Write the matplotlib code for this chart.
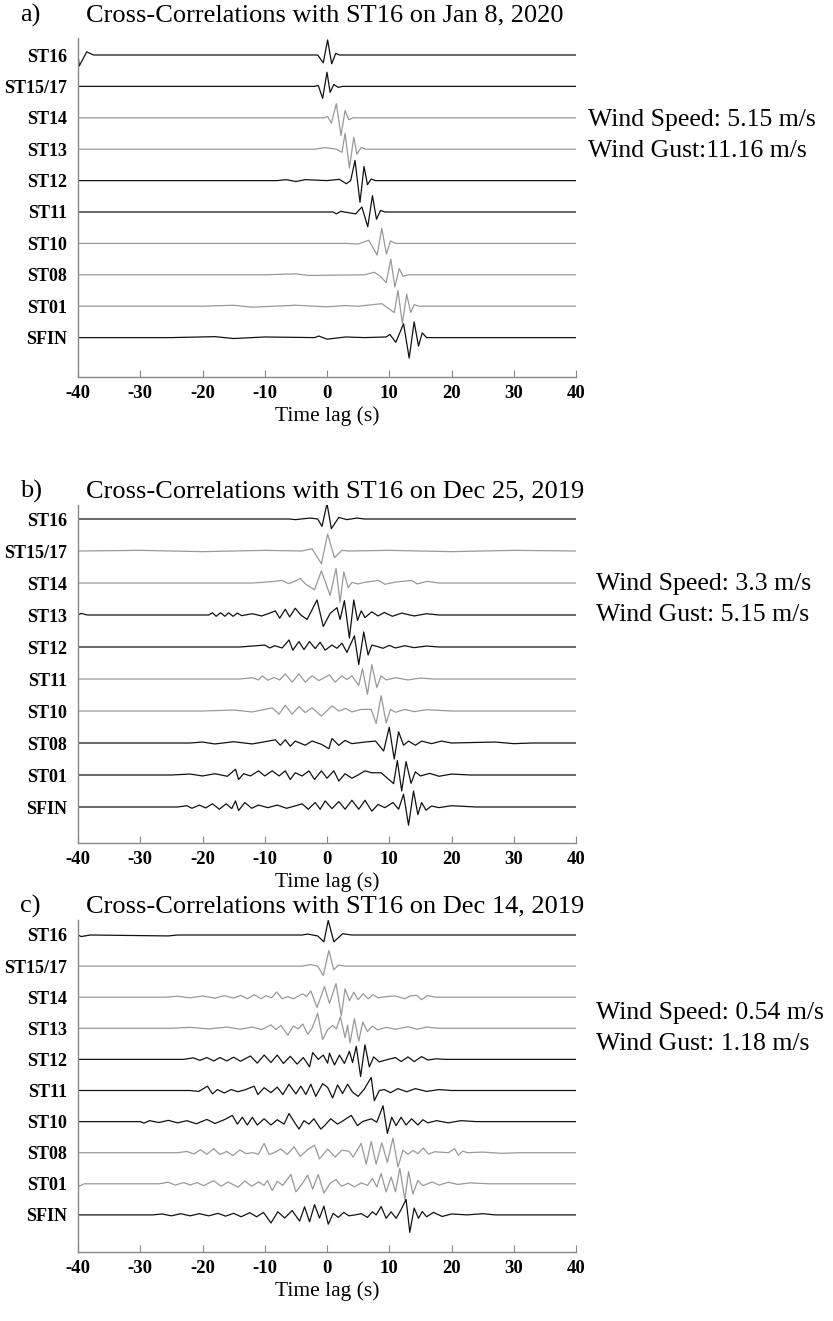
import numpy as np
import matplotlib
matplotlib.use("Agg")
import matplotlib.pyplot as plt

plt.rcParams['font.family'] = ['Liberation Serif', 'DejaVu Serif']

stations = ["ST16", "ST15/17", "ST14", "ST13", "ST12", "ST11", "ST10", "ST08", "ST01", "SFIN"]
xticks = [-40, -30, -20, -10, 0, 10, 20, 30, 40]

# each trace = list of (time lag s, amplitude in trace spacings)
# --- a) Jan 8, 2020
a_ST16 = [(-40, 0), (-39.8, -0.35), (-38.6, 0.1), (-37.5, 0), (-1.5, 0), (-0.6, -0.25), (0.1, 0.48),
          (0.75, -0.28), (1.4, 0.05), (2, 0), (40, 0)]
a_ST15 = [(-40, 0), (-2, 0), (-1.4, 0.03), (-0.7, -0.38), (0.0, 0.45), (0.5, -0.19), (1.1, 0.06),
          (1.8, -0.03), (2.5, 0), (40, 0)]
a_ST14 = [(-40, 0), (-0.5, 0), (0.1, 0.04), (0.7, -0.17), (1.5, 0.45), (2.25, -0.56), (2.9, 0.23),
          (3.5, -0.06), (4.2, 0), (40, 0)]
a_ST13 = [(-40, 0), (-2, 0), (-0.3, 0.05), (1.5, 0), (2.4, -0.1), (2.9, 0.5), (3.6, -0.6), (4.3, 0.38),
          (4.8, -0.16), (5.5, 0.06), (6.2, 0), (40, 0)]
a_ST12 = [(-40, 0), (-8, 0), (-6.5, 0.03), (-5, -0.03), (-3.5, 0.03), (0, 0), (2, 0.04), (3.1, -0.1),
          (3.8, 0), (4.5, 0.64), (5.3, -0.69), (5.95, 0.45), (6.5, -0.13), (7.1, 0.05), (7.8, 0), (40, 0)]
a_ST11 = [(-40, 0), (1, 0), (1.5, -0.06), (2.2, 0.02), (4.6, -0.06), (5.6, 0.16), (6.55, -0.47),
          (7.3, 0.52), (7.95, -0.23), (8.6, 0.05), (9.3, 0), (40, 0)]
a_ST10 = [(-40, 0), (3, 0), (5, -0.02), (6.7, 0.1), (8.05, -0.37), (8.8, 0.48), (9.55, -0.34),
          (10.2, 0.08), (11, 0), (40, 0)]
a_ST08 = [(-40, 0), (-10, 0), (-5, 0.03), (-3, -0.02), (6, 0), (7.6, 0.08), (8.6, -0.05), (9.5, -0.25),
          (10.25, 0.5), (10.9, -0.39), (11.6, 0.2), (12.2, -0.05), (13, 0), (40, 0)]
a_ST01 = [(-40, 0), (-20, 0), (-15, 0.03), (-12, -0.03), (-5, 0.03), (0, -0.02), (3, 0.02), (5, 0),
          (8.8, 0.08), (10.8, -0.2), (11.4, 0.5), (12.1, -0.55), (12.8, 0.38), (13.45, -0.2),
          (14.0, 0.05), (14.8, 0), (40, 0)]
a_SFIN = [(-40, 0), (-25, 0), (-18, 0.03), (-15, -0.03), (-10, 0.02), (-2, 0), (-1.3, 0.05), (0, -0.05),
          (3, 0.02), (6, 0), (9.5, 0.02), (10.1, 0.1), (11.05, -0.15), (12.3, 0.44), (13.2, -0.65),
          (14.0, 0.5), (14.7, -0.27), (15.3, 0.15), (16.0, 0), (40, 0)]

# --- b) Dec 25, 2019
b_ST16 = [(-40, 0), (-6, 0), (-5.1, -0.02), (-2.7, 0.03), (-1.5, 0), (-0.8, -0.23), (0, 0.48), (0.7, -0.3),
          (1.9, 0.05), (3.2, -0.02), (4.8, 0.03), (6, 0), (40, 0)]
b_ST15 = [(-40, 0), (-30, 0.02), (-20, -0.02), (-10, 0.02), (-4, 0), (-2.4, 0.07), (-0.9, -0.4),
          (0.1, 0.53), (1.2, -0.21), (2.4, 0.02), (3.5, 0), (10, 0.02), (20, -0.02), (30, 0.02), (40, 0)]
b_ST14 = [(-40, 0), (-12, 0), (-9, 0.04), (-7.2, 0.08), (-6.2, -0.02), (-5.2, 0.05), (-4.3, 0.14),
          (-3.4, -0.04), (-2.0, -0.21), (-0.9, 0.38), (0.5, -0.39), (1.45, 0.46), (2.1, -0.6), (2.7, 0.35),
          (3.4, -0.15), (4.0, 0.02), (5, -0.03), (6, 0.02), (8.3, 0.08), (9.3, -0.04), (11, 0.03),
          (13.6, 0.08), (14.5, -0.03), (16, 0.05), (18, 0), (40, 0)]
b_ST13 = [(-40, 0), (-39.5, 0.05), (-38.5, 0), (-19, 0), (-18.4, 0.07), (-17.8, -0.04), (-17.1, 0.07),
          (-16.4, -0.04), (-15.8, 0.07), (-15.1, -0.04), (-14.4, 0.06), (-13.7, -0.02), (-12, 0.04),
          (-10.5, -0.03), (-9.3, 0.05), (-8.3, 0.13), (-7.6, -0.1), (-6.7, 0.18), (-6.0, -0.06),
          (-5.1, 0.21), (-4.2, 0.0), (-3.2, -0.14), (-1.6, 0.47), (-0.6, -0.36), (0.5, 0.05), (1.6, 0.23),
          (2.1, -0.14), (2.8, 0.45), (3.6, -0.72), (4.3, 0.47), (4.9, -0.17), (5.5, 0.13), (6.1, -0.08),
          (7.2, 0.1), (8.2, -0.03), (9.2, 0.08), (10.5, -0.04), (12, 0.06), (14, -0.03), (16, 0.04),
          (18, 0), (40, 0)]
b_ST12 = [(-40, 0), (-14, 0), (-12, 0.03), (-10, 0.06), (-9.2, -0.03), (-8.4, 0.04), (-7.2, -0.03),
          (-6.1, 0.22), (-5.5, -0.1), (-4.5, 0.17), (-3.7, -0.08), (-2.8, 0.17), (-1.9, -0.05),
          (-1.1, 0.15), (-0.3, -0.1), (0.8, 0.06), (1.6, -0.04), (2.4, 0.12), (3.2, -0.17), (4.4, 0.35),
          (5.1, -0.55), (5.9, 0.47), (6.6, -0.25), (7.2, 0.06), (8, 0.02), (9, -0.04), (10, 0.05),
          (11, -0.03), (12.5, 0.04), (14, -0.02), (16, 0.03), (18, 0), (40, 0)]
b_ST11 = [(-40, 0), (-14, 0), (-12, 0.04), (-11, -0.03), (-10.4, 0.1), (-9.5, -0.04), (-8.5, 0.05),
          (-7.6, -0.03), (-6.7, 0.16), (-5.6, -0.1), (-4.5, 0.16), (-3.5, -0.1), (-2.4, 0.1),
          (-1.3, -0.05), (0.4, 0.13), (1.3, -0.1), (2.4, 0.1), (3.2, -0.02), (4, 0.1), (5.1, -0.2),
          (5.7, 0.32), (6.5, -0.48), (7.2, 0.45), (8.0, -0.27), (8.7, 0.1), (9.5, -0.03), (11, 0.04),
          (13, -0.03), (15, 0.03), (17, 0), (40, 0)]
b_ST10 = [(-40, 0), (-20, 0), (-15, 0.03), (-12, -0.03), (-10, 0.05), (-8.8, 0.1), (-7.7, -0.1),
          (-6.7, 0.18), (-5.6, -0.1), (-4.5, 0.14), (-3.5, -0.05), (-2.4, 0.1), (-0.9, -0.16), (0.8, 0.16),
          (1.9, 0.0), (3.0, 0.08), (4.0, -0.03), (5.5, 0.05), (7.1, 0.05), (7.9, -0.39), (8.7, 0.48),
          (9.5, -0.37), (10.2, 0.05), (11, -0.04), (12.5, 0.05), (14, -0.02), (16, 0.04), (20, 0), (40, 0)]
b_ST08 = [(-40, 0), (-22, 0), (-20, 0.03), (-18, -0.03), (-15, 0.04), (-12, -0.03), (-10, 0.04),
          (-8.3, 0.1), (-7.5, -0.07), (-6.7, 0.1), (-5.9, -0.1), (-5.1, 0.06), (-3.5, -0.07), (-2.4, 0.06),
          (-0.9, -0.04), (0.3, -0.18), (0.8, 0.14), (1.9, -0.07), (2.9, 0.08), (4, -0.02), (6.1, 0.03),
          (7.8, 0.06), (9.1, -0.25), (10.0, 0.49), (10.8, -0.5), (11.5, 0.35), (12.3, -0.07), (13.1, 0.06),
          (14.2, -0.07), (15.2, 0.06), (16.8, -0.02), (18.4, 0.06), (20, 0), (27, 0.03), (30, -0.02),
          (33, 0), (40, 0)]
b_ST01 = [(-40, 0), (-25, 0), (-22, 0.03), (-20, -0.03), (-18, 0.04), (-16, -0.04), (-14.7, 0.18),
          (-14.2, -0.14), (-13.4, 0.04), (-12.3, -0.03), (-11, 0.13), (-10, -0.03), (-8.8, 0.13),
          (-7.7, -0.03), (-6.7, 0.13), (-5.9, -0.14), (-5.1, 0.07), (-4, -0.03), (-2.9, 0.13), (-2.0, -0.14),
          (-0.9, 0.13), (0, -0.1), (1.1, 0.13), (1.9, -0.19), (2.9, 0.04), (4.0, -0.1), (5, 0.0), (6.1, 0.13),
          (7.2, 0.07), (8.7, 0.07), (10.7, -0.27), (11.3, 0.45), (12.0, -0.5), (12.7, 0.42), (13.5, -0.26),
          (14.2, 0.1), (15, -0.03), (16.5, 0.05), (18, -0.04), (20, 0.03), (23, 0), (40, 0)]
b_SFIN = [(-40, 0), (-24, 0), (-22.5, 0.04), (-21.7, -0.04), (-20.5, 0.06), (-19.5, -0.03), (-18.4, 0.1),
          (-17.3, -0.07), (-16.2, 0.1), (-15.3, -0.05), (-14.7, 0.19), (-14.2, -0.11), (-13.2, 0.14),
          (-12.1, -0.04), (-11, 0.06), (-9.5, -0.02), (-8, 0.06), (-6.5, -0.04), (-5, 0.04), (-4, 0.1),
          (-3, -0.07), (-1.9, 0.14), (-1.1, -0.07), (-0.3, 0.19), (0.8, -0.05), (1.9, 0.17), (2.9, -0.07),
          (4.0, 0.21), (5.1, -0.07), (6.1, 0.21), (7.2, -0.13), (8.2, 0.08), (9.3, -0.02), (10.6, 0.14),
          (11.5, -0.07), (12.3, 0.4), (13.1, -0.57), (13.9, 0.5), (14.6, -0.24), (15.2, 0.14), (15.9, -0.1),
          (16.8, 0.03), (18, -0.02), (20, 0.04), (24, 0), (40, 0)]

# --- c) Dec 14, 2019
c_ST16 = [(-40, 0), (-39.5, -0.05), (-38, 0), (-25.5, -0.03), (-24, 0), (-4, 0), (-3.1, 0.03),
          (-1.5, -0.03), (-0.5, -0.22), (0.2, 0.47), (1.1, -0.22), (2.5, 0.04), (4, 0), (40, 0)]
c_ST15 = [(-40, 0), (-4, 0), (-2.6, 0.05), (-1.5, 0), (-0.6, -0.3), (0.3, 0.5), (1.1, -0.12), (1.8, 0.03),
          (3, 0), (40, 0)]
c_ST14 = [(-40, 0), (-26, 0), (-24, 0.03), (-22, -0.02), (-20, 0.04), (-18, -0.03), (-16.5, 0.05),
          (-15, -0.03), (-13.9, 0.06), (-12.8, -0.05), (-11.7, 0.08), (-10.6, -0.05), (-9.8, 0.05),
          (-8.9, -0.02), (-8.1, 0.17), (-7.2, -0.05), (-6.3, 0.02), (-5.4, -0.05), (-3.9, 0.11),
          (-3.3, 0.02), (-2.6, 0.2), (-1.6, -0.33), (-0.4, 0.34), (0.4, -0.2), (1.45, 0.44), (2.3, -0.6),
          (2.9, 0.27), (3.6, -0.11), (4.3, 0.16), (5.0, -0.08), (5.8, 0.11), (6.6, -0.05), (7.4, 0.08),
          (8.2, -0.02), (9.5, 0.02), (11, 0.04), (12.5, -0.05), (13.3, 0.04), (14.4, 0.06), (15.2, -0.08),
          (16.1, 0.05), (17.5, 0), (40, 0)]
c_ST13 = [(-40, 0), (-25, 0), (-22, 0.03), (-19, -0.02), (-16, 0.04), (-14, -0.03), (-12, 0.04),
          (-10.5, -0.04), (-9.0, 0.11), (-8.2, -0.04), (-7.4, 0.09), (-6.3, -0.22), (-5.4, 0.07),
          (-4.6, -0.02), (-3.9, 0.14), (-3.1, -0.19), (-2.4, 0.0), (-1.5, 0.48), (-0.7, -0.36), (0.1, -0.05),
          (0.9, 0.09), (1.5, -0.02), (2.15, 0.37), (2.9, -0.3), (3.3, 0.1), (3.7, -0.47), (4.4, 0.31),
          (5.1, -0.41), (5.75, 0.2), (6.5, -0.1), (7.3, 0.07), (8.1, -0.05), (9.5, 0.03), (11, -0.03),
          (13, 0.05), (14.5, -0.03), (16, 0.04), (18, 0), (40, 0)]
c_ST12 = [(-40, 0), (-23, 0), (-21.5, 0.05), (-20.4, -0.03), (-19.3, 0.06), (-18.2, -0.05), (-17.2, 0.06),
          (-16.1, -0.05), (-15, 0.07), (-13.9, -0.06), (-12.3, 0.11), (-11.2, -0.12), (-10.1, 0.14),
          (-9.0, -0.1), (-8.0, 0.14), (-7.0, -0.13), (-5.9, 0.1), (-4.8, -0.15), (-3.8, 0.06), (-2.8, -0.24),
          (-2.3, 0.22), (-1.4, 0.0), (-0.6, 0.14), (0.1, -0.12), (0.4, 0.2), (1.2, -0.18), (2.0, 0.14),
          (2.8, -0.13), (3.6, 0.26), (4.1, -0.1), (4.7, 0.42), (5.4, -0.55), (6.1, 0.47), (6.8, -0.24),
          (7.5, 0.08), (8.4, -0.08), (9.8, 0.0), (11, 0.06), (11.9, -0.07), (13, 0.08), (14, -0.07),
          (15.2, 0.09), (16.2, -0.02), (17.5, 0.02), (19, 0), (40, 0)]
c_ST11 = [(-40, 0), (-22, 0), (-20.6, -0.03), (-19.2, 0.14), (-18.4, -0.11), (-17.6, 0.03), (-16.5, -0.08),
          (-15.4, 0.03), (-14.3, -0.04), (-13.2, 0.02), (-11.7, 0.14), (-11.1, -0.13), (-10.1, 0.09),
          (-9.0, -0.07), (-8.0, 0.11), (-7.1, -0.13), (-6.1, 0.2), (-5.0, -0.11), (-4.2, 0.14), (-3.4, -0.13),
          (-2.6, 0.2), (-1.8, -0.19), (-0.7, 0.22), (0.1, 0.1), (0.9, -0.24), (1.7, 0.18), (2.5, -0.1),
          (3.3, 0.2), (4.1, -0.05), (5.0, -0.19), (6.0, 0.05), (7.1, 0.42), (7.6, -0.33), (8.4, 0.0),
          (9.2, 0.03), (10.2, -0.07), (11.4, 0.06), (12.8, -0.04), (14.2, 0.06), (16, -0.03), (18, 0.03),
          (20, 0), (40, 0)]
c_ST10 = [(-40, 0), (-30, 0), (-29.4, -0.05), (-28.5, 0.03), (-27, -0.03), (-25.5, 0.04), (-24, -0.04),
          (-22.5, 0.03), (-21, -0.07), (-19.3, 0.07), (-18, -0.06), (-16.4, 0.07), (-15.2, 0.2),
          (-14.4, -0.08), (-13.6, 0.14), (-12.8, -0.11), (-12, 0.14), (-11.2, -0.11), (-10.1, 0.09),
          (-9.0, -0.11), (-8.0, 0.06), (-6.9, -0.08), (-6.1, 0.26), (-5.3, 0.0), (-4.5, -0.24), (-3.7, 0.03),
          (-2.9, -0.08), (-2.1, 0.09), (-1.0, -0.24), (-0.4, -0.13), (0.6, 0.09), (1.7, -0.08), (2.6, 0.03),
          (3.9, 0.2), (4.9, -0.13), (5.7, 0.0), (7.1, 0.09), (8.0, -0.02), (9.0, 0.51), (9.7, -0.38),
          (10.4, 0.14), (11.1, -0.13), (11.9, 0.14), (12.7, -0.11), (13.6, 0.09), (14.6, -0.11),
          (15.4, 0.06), (16.2, -0.04), (17.6, 0.03), (19.5, -0.04), (21.5, 0.03), (24, 0), (40, 0)]
c_ST08 = [(-40, 0), (-24, 0), (-22.5, 0.04), (-21.4, -0.04), (-20.3, 0.1), (-19.3, -0.05), (-18.2, 0.13),
          (-17.2, -0.06), (-16.1, 0.04), (-15.1, -0.09), (-14, 0.09), (-13, -0.03), (-11.9, 0.0),
          (-11, -0.05), (-10.1, 0.3), (-9.3, -0.06), (-8.5, 0.0), (-7.4, 0.12), (-6.4, -0.06), (-5.3, 0.19),
          (-4.3, -0.12), (-3.1, 0.1), (-2.0, 0.24), (-1.2, -0.2), (0.1, 0.12), (1.3, -0.14), (2.4, 0.08),
          (3.5, 0.05), (4.2, -0.14), (5.5, 0.3), (6.3, -0.37), (7.1, 0.36), (7.9, -0.37), (8.8, 0.32),
          (9.7, -0.31), (10.6, 0.47), (11.4, -0.46), (12.2, 0.08), (13.0, -0.05), (13.8, 0.07), (14.6, -0.03),
          (15.5, 0.15), (16.3, -0.05), (17.3, 0.03), (19.5, 0.0), (20.5, 0.13), (21.1, -0.08), (21.8, 0.05),
          (22.6, 0), (25, 0.02), (28, -0.02), (31, 0), (40, 0)]
c_ST01 = [(-40, 0), (-39.8, -0.08), (-39, 0), (-27, 0), (-25.5, 0.05), (-24.4, -0.04), (-23, 0.04),
          (-22, -0.04), (-20.9, 0.04), (-19.8, -0.06), (-18.2, 0.1), (-17, -0.08), (-15.9, 0.06),
          (-14.3, -0.11), (-13.2, 0.09), (-12.1, -0.08), (-11, 0.06), (-10.1, -0.05), (-9.6, 0.11),
          (-8.8, -0.22), (-8.0, 0.08), (-7.1, -0.05), (-5.8, 0.3), (-5.0, -0.26), (-4.0, 0.0), (-3.1, 0.28),
          (-2.3, -0.17), (-1.4, 0.3), (-0.5, -0.3), (0.5, 0.02), (1.45, 0.14), (2.3, -0.08), (3.4, 0.02),
          (4.4, -0.1), (5.5, 0.03), (6.5, -0.05), (7.3, 0.17), (8.0, -0.1), (8.7, 0.33), (9.5, -0.26),
          (10.3, 0.22), (11.0, -0.26), (11.7, 0.5), (12.5, -0.5), (13.1, 0.39), (13.8, -0.33), (14.6, 0.11),
          (15.4, -0.06), (16.9, 0.06), (18, -0.04), (19.5, 0.05), (21, -0.02), (23, 0.03), (26, 0), (40, 0)]
c_SFIN = [(-40, 0), (-28, 0), (-26.5, 0.03), (-25, -0.03), (-23.5, 0.04), (-22, -0.03), (-20.5, 0.04),
          (-19, -0.03), (-17.5, 0.05), (-16.3, -0.04), (-15, 0.05), (-13.8, -0.06), (-12.4, 0.07),
          (-11.3, -0.06), (-10.2, 0.08), (-9.0, -0.26), (-7.9, 0.1), (-6.8, -0.1), (-5.6, 0.14), (-4.4, -0.2),
          (-3.6, 0.26), (-2.8, -0.22), (-2.0, 0.33), (-1.2, -0.1), (-0.5, 0.28), (0.2, -0.3), (1.0, 0.05),
          (1.8, -0.08), (2.7, 0.08), (3.5, -0.03), (4.5, 0.0), (5.5, 0.04), (6.5, -0.08), (7.3, 0.1),
          (7.9, 0.0), (8.7, 0.27), (9.5, -0.11), (10.3, 0.1), (11.1, -0.11), (11.9, 0.17), (12.7, 0.5),
          (13.3, -0.56), (14.0, 0.22), (14.7, -0.11), (15.3, 0.11), (16.0, -0.06), (17.1, 0.08),
          (18.5, -0.05), (20, 0.03), (22.5, 0), (25, 0.04), (27, 0), (40, 0)]

# line shade of each trace (k = black, g = gray)
shade_a = ["k", "k", "g", "g", "k", "k", "g", "g", "g", "k"]
shade_b = ["k", "g", "g", "k", "k", "g", "g", "k", "k", "k"]
shade_c = ["k", "g", "g", "g", "k", "k", "k", "g", "g", "k"]

titles = ["Cross-Correlations with ST16 on Jan 8, 2020",
          "Cross-Correlations with ST16 on Dec 25, 2019",
          "Cross-Correlations with ST16 on Dec 14, 2019"]
letters = ["a)", "b)", "c)"]
wind_speed = ["Wind Speed: 5.15 m/s", "Wind Speed: 3.3 m/s", "Wind Speed: 0.54 m/s"]
wind_gust = ["Wind Gust:11.16 m/s", "Wind Gust: 5.15 m/s", "Wind Gust: 1.18 m/s"]

panels = [
    [a_ST16, a_ST15, a_ST14, a_ST13, a_ST12, a_ST11, a_ST10, a_ST08, a_ST01, a_SFIN],
    [b_ST16, b_ST15, b_ST14, b_ST13, b_ST12, b_ST11, b_ST10, b_ST08, b_ST01, b_SFIN],
    [c_ST16, c_ST15, c_ST14, c_ST13, c_ST12, c_ST11, c_ST10, c_ST08, c_ST01, c_SFIN],
]
shades = [shade_a, shade_b, shade_c]
colors = {"k": "#111111", "g": "#999999"}

W, H = 833, 1321
fig = plt.figure(figsize=(W / 100, H / 100), dpi=100)

# pixel layout: (axes top, axes bottom, first trace y, trace spacing, title y, wind y, wind x)
layout = [(38, 377, 55, 31.4, 15, 120, 588),
          (505, 843, 519, 32.0, 491, 584, 596),
          (920, 1252, 935, 31.1, 906, 1013, 596)]

for p, (top, bot, y0, sp, ty, wy, wx) in enumerate(layout):
    ax = fig.add_axes([78 / W, 1 - bot / H, 498 / W, (bot - top) / H])
    for i, tr in enumerate(panels[p]):
        t = np.array([q[0] for q in tr])
        a = np.array([q[1] for q in tr])
        ax.plot(t, a - i, color=colors[shades[p][i]], lw=0.9)
    ax.set_xlim(-40, 40)
    ax.set_ylim(-(bot - y0) / sp, (y0 - top) / sp)
    ax.set_yticks(-np.arange(len(stations)))
    ax.set_yticklabels(stations, fontsize=13, fontweight="bold")
    ax.tick_params(axis="y", length=0, pad=8)
    ax.set_xticks(xticks)
    ax.set_xticklabels([str(v) for v in xticks], fontsize=13.5, fontweight="bold")
    ax.tick_params(axis="x", direction="in", length=5, color="#888888", pad=6)
    ax.set_xlabel("Time lag (s)", fontsize=15.5, labelpad=3)
    for s in ["top", "right"]:
        ax.spines[s].set_visible(False)
    for s in ["left", "bottom"]:
        ax.spines[s].set_color("#888888")
        ax.spines[s].set_linewidth(1.0)

    fig.text(20 / W, 1 - ty / H, letters[p], fontsize=19, va="center", ha="left")
    fig.text(86 / W, 1 - ty / H, titles[p], fontsize=19, va="center", ha="left")
    fig.text(wx / W, 1 - wy / H, wind_speed[p], fontsize=18.5, va="center", ha="left")
    fig.text(wx / W, 1 - (wy + 31) / H, wind_gust[p], fontsize=18.5, va="center", ha="left")

fig.savefig("out.png", dpi=100)
